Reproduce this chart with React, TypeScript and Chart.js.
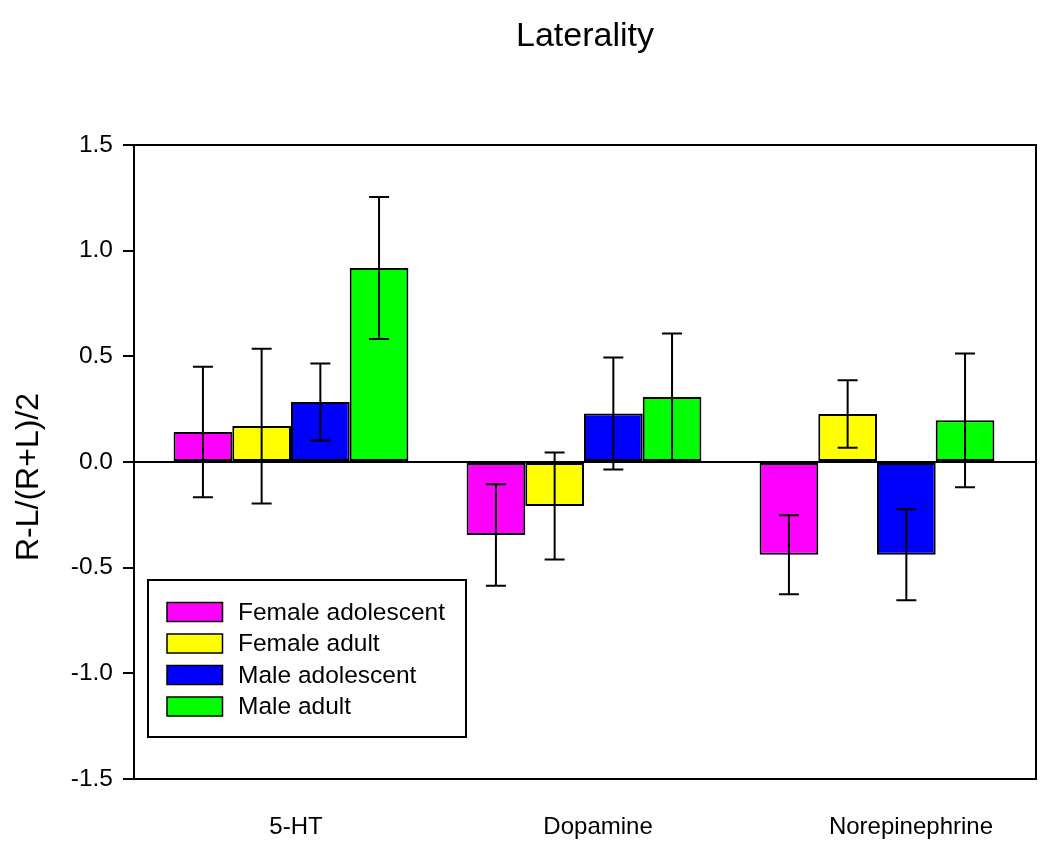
import React, { useEffect, useRef } from 'react';
import { Chart, registerables } from 'chart.js';

Chart.register(...registerables);

const chartTitle = 'Laterality';
const yAxisTitle = 'R-L/(R+L)/2';
const categories = ['5-HT', 'Dopamine', 'Norepinephrine'];
const seriesNames = ['Female adolescent', 'Female adult', 'Male adolescent', 'Male adult'];
const seriesColors = ['#FF00FF', '#FFFF00', '#0000FF', '#00FF00'];

const femaleAdolescent = [0.142, -0.345, -0.439];
const femaleAdult = [0.170, -0.208, 0.227];
const maleAdolescent = [0.284, 0.229, -0.439];
const maleAdult = [0.918, 0.308, 0.197];

const femaleAdolescentErr = [0.309, 0.24, 0.187];
const femaleAdultErr = [0.366, 0.253, 0.16];
const maleAdolescentErr = [0.182, 0.265, 0.215];
const maleAdultErr = [0.336, 0.30, 0.316];

const yTickValues = [-1.5, -1.0, -0.5, 0.0, 0.5, 1.0, 1.5];

const seriesValues = [femaleAdolescent, femaleAdult, maleAdolescent, maleAdult];
const seriesErrors = [femaleAdolescentErr, femaleAdultErr, maleAdolescentErr, maleAdultErr];

const FONT = '"Liberation Sans", Arial, Helvetica, sans-serif';

// label placement (offset of each category label relative to its bar group)
const labelShift = [0.017, 0.048, 0.116];

const errorBarPlugin = {
  id: 'errorBars',
  afterDatasetsDraw(chart: any) {
    const ctx = chart.ctx;
    const yScale = chart.scales.y;
    ctx.save();
    ctx.strokeStyle = '#000';
    ctx.lineWidth = 2;
    chart.data.datasets.forEach((ds: any, di: number) => {
      const meta = chart.getDatasetMeta(di);
      meta.data.forEach((bar: any, i: number) => {
        const v = seriesValues[di][i];
        const e = seriesErrors[di][i];
        const x = bar.x;
        const yT = yScale.getPixelForValue(v + e);
        const yB = yScale.getPixelForValue(v - e);
        ctx.beginPath();
        ctx.moveTo(x, yT);
        ctx.lineTo(x, yB);
        ctx.moveTo(x - 10, yT);
        ctx.lineTo(x + 10, yT);
        ctx.moveTo(x - 10, yB);
        ctx.lineTo(x + 10, yB);
        ctx.stroke();
      });
    });
    ctx.restore();
  },
};

const decorPlugin = {
  id: 'decor',
  afterDraw(chart: any) {
    const ctx = chart.ctx;
    const a = chart.chartArea;
    ctx.save();
    // plot frame
    ctx.strokeStyle = '#000';
    ctx.lineWidth = 2;
    ctx.strokeRect(a.left, a.top, a.right - a.left, a.bottom - a.top);

    // title
    ctx.fillStyle = '#000';
    ctx.font = `34px ${FONT}`;
    ctx.textAlign = 'center';
    ctx.textBaseline = 'alphabetic';
    ctx.fillText(chartTitle, (a.left + a.right) / 2, 46);

    // y axis title
    ctx.save();
    ctx.translate(29, 477);
    ctx.rotate(-Math.PI / 2);
    ctx.font = `32px ${FONT}`;
    ctx.textAlign = 'center';
    ctx.textBaseline = 'middle';
    ctx.fillText(yAxisTitle, 0, 0);
    ctx.restore();

    // legend
    const bx = 148, by = 580, bw = 318, bh = 157;
    ctx.fillStyle = '#fff';
    ctx.fillRect(bx, by, bw, bh);
    ctx.strokeStyle = '#000';
    ctx.lineWidth = 2;
    ctx.strokeRect(bx, by, bw, bh);
    ctx.font = `24.5px ${FONT}`;
    ctx.textAlign = 'left';
    ctx.textBaseline = 'middle';
    seriesNames.forEach((name, i) => {
      const cy = 612 + i * 31.5;
      ctx.fillStyle = seriesColors[i];
      ctx.fillRect(167, cy - 9.5, 55.5, 19);
      ctx.lineWidth = 1.5;
      ctx.strokeStyle = '#000';
      ctx.strokeRect(167, cy - 9.5, 55.5, 19);
      ctx.fillStyle = '#000';
      ctx.fillText(name, 238, cy + 1);
    });
    ctx.restore();
  },
};

export default function App() {
  const canvasRef = useRef<HTMLCanvasElement | null>(null);

  useEffect(() => {
    if (!canvasRef.current) return;
    Chart.defaults.font.family = FONT;
    Chart.defaults.color = '#000';
    const chart = new Chart(canvasRef.current, {
      type: 'bar',
      data: {
        datasets: seriesNames.map((name, si) => ({
          label: name,
          data: seriesValues[si].map((v, i) => ({ x: i, y: v })),
          backgroundColor: seriesColors[si],
          borderColor: '#000',
          borderWidth: 2,
          borderSkipped: false,
          categoryPercentage: 0.8014,
          barPercentage: 1,
        })),
      },
      options: {
        responsive: false,
        animation: false,
        layout: { padding: { left: 0, top: 145, right: 14, bottom: 0 } },
        plugins: {
          legend: { display: false },
          tooltip: { enabled: false },
          title: { display: false },
        },
        scales: {
          x: {
            type: 'linear',
            offset: false,
            min: -0.5358,
            max: 2.5427,
            grid: { display: false, offset: false },
            border: { display: false },
            afterBuildTicks: (scale: any) => {
              scale.ticks = categories.map((_, i) => ({ value: i + labelShift[i] }));
            },
            afterFit: (scale: any) => {
              scale.height = 68;
            },
            ticks: {
              autoSkip: false,
              maxRotation: 0,
              minRotation: 0,
              padding: 26,
              font: { size: 24, family: FONT },
              color: '#000',
              callback: (_v: any, i: number) => categories[i],
            },
          },
          y: {
            type: 'linear',
            min: -1.5,
            max: 1.5,
            afterBuildTicks: (scale: any) => {
              scale.ticks = yTickValues.map((v) => ({ value: v }));
            },
            afterFit: (scale: any) => {
              scale.width = 134;
            },
            grid: {
              drawOnChartArea: true,
              drawTicks: true,
              tickLength: 11,
              tickColor: '#000',
              tickWidth: 2,
              color: (c: any) => (c.tick && c.tick.value === 0 ? '#000' : 'rgba(0,0,0,0)'),
              lineWidth: 2,
            },
            border: { display: true, color: '#000', width: 2 },
            ticks: {
              padding: 10,
              font: { size: 24.5, family: FONT },
              color: '#000',
              callback: (v: any) => Number(v).toFixed(1),
            },
          },
        },
      },
      plugins: [errorBarPlugin, decorPlugin],
    } as any);
    return () => chart.destroy();
  }, []);

  return (
    <div style={{ position: 'absolute', left: 0, top: 0, width: 1050, height: 847, background: '#fff' }}>
      <canvas ref={canvasRef} width={1050} height={847} />
    </div>
  );
}
